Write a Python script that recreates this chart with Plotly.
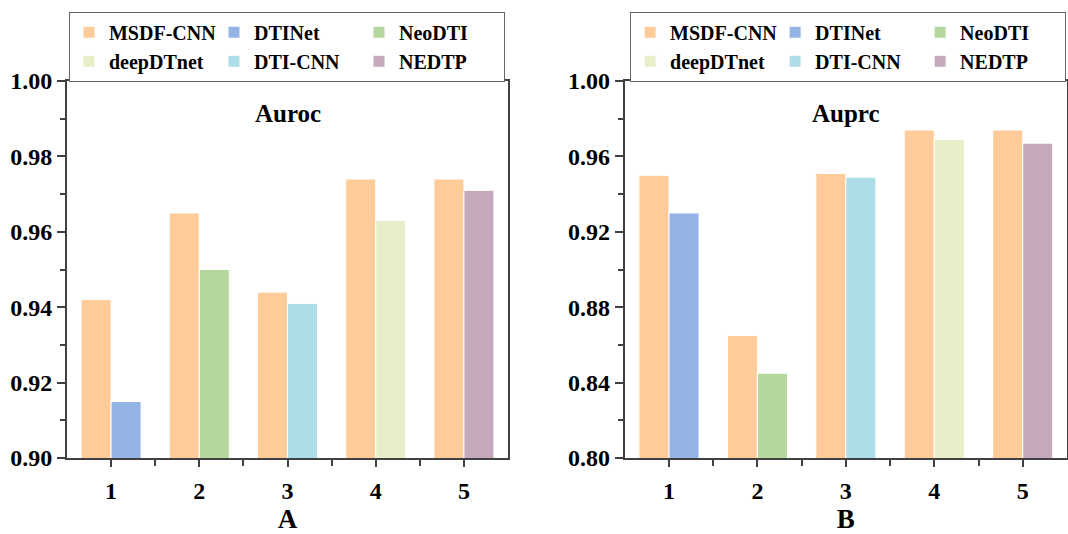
import plotly.graph_objects as go

# ---- data ----
categories = [1, 2, 3, 4, 5]
baseline_names = ["DTINet", "NeoDTI", "DTI-CNN", "deepDTnet", "NEDTP"]  # competitor in each category
auroc_msdf = [0.942, 0.965, 0.944, 0.974, 0.974]
auroc_other = [0.915, 0.950, 0.941, 0.963, 0.971]
auprc_msdf = [0.950, 0.865, 0.951, 0.974, 0.974]
auprc_other = [0.930, 0.845, 0.949, 0.969, 0.967]
# legend columns (each column = one legend group, two rows)
legend_columns = [["MSDF-CNN", "deepDTnet"], ["DTINet", "DTI-CNN"], ["NeoDTI", "NEDTP"]]
colors = {
    "MSDF-CNN": "#FFCC99",
    "DTINet": "#94B4E6",
    "NeoDTI": "#B5D69C",
    "deepDTnet": "#E6EFC7",
    "DTI-CNN": "#ADDDE6",
    "NEDTP": "#C4A8BC",
}

FONT = "Liberation Serif, Times New Roman, serif"
BW = 0.34

fig = go.Figure()


def add_panel(msdf, other, xa, ya, leg, tag):
    for ci, col in enumerate(legend_columns):
        for name in col:
            if name == "MSDF-CNN":
                xs, ys, off = categories, msdf, -BW
            else:
                i = baseline_names.index(name)
                xs, ys, off = [categories[i]], [other[i]], 0
            fig.add_trace(go.Bar(
                x=xs, y=ys, name=name, width=BW, offset=off,
                marker=dict(color=colors[name], line=dict(color="white", width=1)),
                xaxis=xa, yaxis=ya, legend=leg, legendgroup=f"{tag}{ci}",
            ))


add_panel(auroc_msdf, auroc_other, "x", "y", "legend", "a")
add_panel(auprc_msdf, auprc_other, "x2", "y2", "legend2", "b")

axis_common = dict(
    showline=True, mirror=True, linecolor="#404040", linewidth=2,
    ticks="outside", tickcolor="#404040", tickwidth=1.5,
    showgrid=False, zeroline=False, automargin=False,
    tickfont=dict(family=FONT, size=24, color="black", weight="bold"),
)

xcommon = dict(axis_common, range=[0.5, 5.5], tickvals=categories, ticklen=7, ticklabelstandoff=3,
               minor=dict(tickvals=[1.5, 2.5, 3.5, 4.5], ticklen=6, ticks="outside", tickcolor="#404040"),
               title=dict(font=dict(family=FONT, size=27, color="black", weight="bold"), standoff=20))

legend_common = dict(orientation="h", y=0.978, xanchor="left", yanchor="top",
                     entrywidth=100, traceorder="grouped", tracegroupgap=0,
                     bordercolor="#666666", borderwidth=1, bgcolor="white",
                     font=dict(family=FONT, size=20, color="black", weight="bold"))

fig.update_layout(
    width=1068, height=534,
    margin=dict(l=0, r=0, t=0, b=0),
    plot_bgcolor="white", paper_bgcolor="white",
    barmode="overlay",
    showlegend=True,
    xaxis=dict(xcommon, domain=[0.0627, 0.4757], anchor="y", title=dict(xcommon["title"], text="A")),
    yaxis=dict(axis_common, domain=[0.1423, 0.8483], anchor="x", range=[0.90, 1.00], dtick=0.02,
               tickformat=".2f", ticklen=8,
               minor=dict(dtick=0.01, ticklen=5, ticks="outside", tickcolor="#404040")),
    xaxis2=dict(xcommon, domain=[0.585, 0.999], anchor="y2", title=dict(xcommon["title"], text="B")),
    yaxis2=dict(axis_common, domain=[0.1423, 0.8483], anchor="x2", range=[0.80, 1.00], dtick=0.04,
                tickformat=".2f", ticklen=8,
                minor=dict(dtick=0.02, ticklen=5, ticks="outside", tickcolor="#404040")),
    legend=dict(legend_common, x=0.0646),
    legend2=dict(legend_common, x=0.59),
    annotations=[
        dict(text="Auroc", xref="x domain", yref="y domain", x=0.5, y=0.915, yanchor="middle",
             showarrow=False, font=dict(family=FONT, size=25, color="black", weight="bold")),
        dict(text="Auprc", xref="x2 domain", yref="y2 domain", x=0.5, y=0.915, yanchor="middle",
             showarrow=False, font=dict(family=FONT, size=25, color="black", weight="bold")),
    ],
)

fig.write_html("out.html")
